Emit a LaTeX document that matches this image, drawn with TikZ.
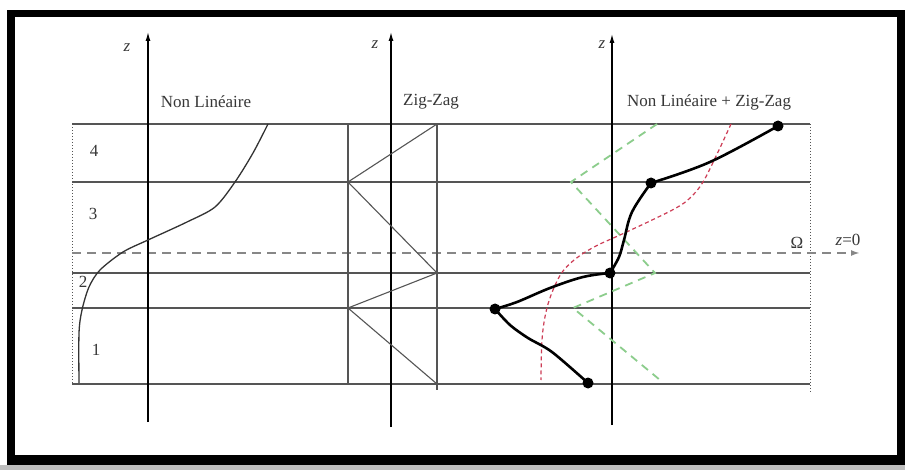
\documentclass[tikz,border=0pt]{standalone}
\usepackage{fontspec}
\setmainfont{Liberation Serif}
\usetikzlibrary{arrows.meta}
\definecolor{gridc}{RGB}{85,85,85}
\definecolor{dashc}{RGB}{135,135,135}
\definecolor{redc}{RGB}{205,60,85}
\definecolor{greenc}{RGB}{140,205,140}
\definecolor{txtc}{RGB}{55,55,55}
\definecolor{barc}{RGB}{190,190,190}
\tikzset{
  layerline/.style={draw=gridc, line width=1.6pt},
  sideline/.style={draw=gridc, line width=1pt, dotted},
  axisline/.style={draw=black, line width=1.2pt, -{Latex[length=9pt,width=5pt]}},
  zigline/.style={draw=gridc, line width=1.1pt},
  nlcurve/.style={draw=black!80, line width=1.3pt},
  bigcurve/.style={draw=black, line width=2.6pt},
  redcurve/.style={draw=redc, line width=1.2pt, dash pattern=on 4pt off 3pt},
  greencurve/.style={draw=greenc, line width=1.8pt, dash pattern=on 8pt off 6pt},
  zeroline/.style={draw=dashc, line width=2.2pt, dash pattern=on 9pt off 6pt},
  lbl/.style={text=txtc, font=\fontsize{17}{20}\selectfont, inner sep=0pt},
  dotpt/.style={circle, fill=black, minimum size=11pt, inner sep=0pt},
}
\begin{document}
\begin{tikzpicture}[x=1pt,y=-1pt]
\useasboundingbox (0,0) rectangle (905,470);
% frame
\fill[barc] (0,465) rectangle (905,470);
\fill[black] (7,10) rectangle (905,465);
\fill[white] (15,17) rectangle (897,455);

% layer lines
\coordinate (L1) at (72,124); \coordinate (R1) at (810,124);
\coordinate (L2) at (72,182); \coordinate (R2) at (810,182);
\coordinate (L3) at (72,273); \coordinate (R3) at (810,273);
\coordinate (L4) at (72,308); \coordinate (R4) at (810,308);
\coordinate (L5) at (72,384); \coordinate (R5) at (810,384);
\foreach \i in {1,...,5} { \draw[layerline] (L\i) -- (R\i); }
\coordinate (RB) at (810,392);
\draw[sideline] (L1) -- (L5);
\draw[sideline] (R1) -- (RB);

% z = 0 dashed line
\coordinate (Z0a) at (72,253); \coordinate (Z0b) at (860,253);
\draw[zeroline, -{Latex[length=9pt,width=6pt]}] (Z0a) -- (Z0b);
\node[lbl] (omega) at (797,243) {Ω};
\node[lbl] (zzero) at (848,240) {\textit{z}=0};

% axes
\coordinate (A1b) at (148,422); \coordinate (A1t) at (148,32);
\coordinate (A2b) at (391,427); \coordinate (A2t) at (391,32);
\coordinate (A3b) at (612,425); \coordinate (A3t) at (612,34);
\draw[axisline] (A1b) -- (A1t);
\draw[axisline] (A2b) -- (A2t);
\draw[axisline] (A3b) -- (A3t);
\node[lbl] (z1) at (127,48) {\textit{z}};
\node[lbl] (z2) at (375,45) {\textit{z}};
\node[lbl] (z3) at (602,45) {\textit{z}};

% titles
\node[lbl] (t1) at (206,102) {Non Linéaire};
\node[lbl] (t2) at (431,102) {Zig-Zag};
\node[lbl] (t3) at (709,102) {Non Linéaire + Zig-Zag};

% layer numbers
\node[lbl] (n4) at (94,151) {4};
\node[lbl] (n3) at (93,214) {3};
\node[lbl] (n2) at (83,282) {2};
\node[lbl] (n1) at (96,350) {1};

% zig-zag panel
\coordinate (V1t) at (348,124); \coordinate (V1b) at (348,384);
\coordinate (V2t) at (437,124); \coordinate (V2b) at (437,390);
\draw[layerline] (V1t) -- (V1b);
\draw[layerline] (V2t) -- (V2b);
\draw[zigline] (437,124) -- (348,182) -- (437,273) -- (348,308) -- (437,384);

% non linear curve
\draw[nlcurve] plot[smooth, tension=0.5] coordinates {(268,124) (253,153) (235,182) (215,207) (187,222) (148,240) (123,252) (100,270) (89,287) (82,310) (79,333) (79,383)};

% combined panel
\draw[greencurve] (657,124) -- (571,182) -- (655,273) -- (573,308) -- (660,380);
\draw[redcurve] plot[smooth, tension=0.6] coordinates {(731,124) (718,152) (703,182) (690,198) (676,208) (650,221) (620,235) (596,246) (578,257) (563,271) (553,290) (546,312) (542,340) (541,380)};

\node[dotpt] (p1) at (778,126) {};
\node[dotpt] (p2) at (651,183) {};
\node[dotpt] (p3) at (610,273) {};
\node[dotpt] (p4) at (495,309) {};
\node[dotpt] (p5) at (588,383) {};
\draw[bigcurve] plot[smooth, tension=0.6] coordinates {(p1.center) (710,162) (p2.center)};
\draw[bigcurve] plot[smooth, tension=0.6] coordinates {(p2.center) (632,212) (624,240) (619,257) (p3.center)};
\draw[bigcurve] plot[smooth, tension=0.6] coordinates {(p3.center) (583,277) (550,288) (517,302) (p4.center)};
\draw[bigcurve] plot[smooth, tension=0.5] coordinates {(p4.center) (510,325) (528,338) (552,352) (p5.center)};
\end{tikzpicture}
\end{document}
